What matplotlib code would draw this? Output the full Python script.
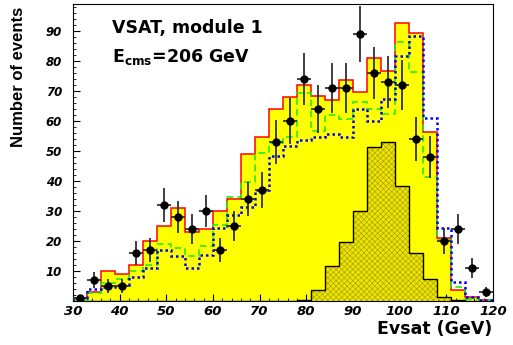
import numpy as np
import matplotlib
matplotlib.use('Agg')
import matplotlib.pyplot as plt

# bin edges (3 GeV bins)
edges = [30, 33, 36, 39, 42, 45, 48, 51, 54, 57, 60, 63, 66, 69, 72, 75, 78, 81,
         84, 87, 90, 93, 96, 99, 102, 105, 108, 111, 114, 117, 120]

# total MC (yellow, red outline)
mc_total = [1, 3, 10, 9, 12, 20, 25, 31, 23, 24, 30, 34, 49, 54.5, 64, 68, 72, 68.4,
            67, 73.7, 69.6, 81, 76.8, 92.6, 89.2, 56.2, 21.1, 3.7, 1.2, 0.4]
# green dashed
mc_green = [0.5, 2.6, 5.9, 7.3, 10.1, 12, 18.9, 17.8, 15, 18.3, 25.3, 34.6, 39.8, 49.2,
            52.5, 54.5, 69.2, 56.5, 62, 60.6, 66.2, 64, 62.2, 86.4, 76.3, 41.4, 20.3,
            4.8, 0.8, 0.2]
# blue dotted
mc_blue = [0.9, 3.9, 4.8, 5.3, 8.1, 10.9, 17, 15, 10.9, 15.3, 24.4, 28.7, 31.2, 37,
           48.4, 51.8, 53.7, 54.6, 55.7, 54.6, 63.9, 60.1, 67.3, 81.6, 88.4, 60.9,
           24.4, 6.2, 1.4, 0.5]
# hatched component
mc_hatch = [0, 0, 0, 0, 0, 0, 0, 0, 0, 0, 0, 0, 0, 0, 0, 0, 0.3, 3.7, 11.8, 19.8,
            30.1, 51.4, 53.1, 38.3, 15.9, 7.2, 1.4, 0.3, 0, 0]
# data
data = [1, 7, 5, 5, 16, 17, 32, 28, 24, 30, 17, 25, 34, 37, 53, 60, 74, 64, 71, 71,
        89, 76, 73, 72, 54, 48, 20, 24, 11, 3]

edges = np.array(edges, dtype=float)
centers = (edges[:-1] + edges[1:]) / 2
data = np.array(data, dtype=float)

plt.rcParams['hatch.linewidth'] = 0.4
fig = plt.figure(figsize=(5.13, 3.45), dpi=100)
ax = fig.add_axes([73/513, 1 - 301/345, 420/513, 297/345])

ax.stairs(mc_total, edges, fill=True, color='#ffff00', zorder=1)
# hatched fill, then black outline
ax.stairs(mc_hatch, edges, fill=True, facecolor='#ece400', edgecolor='#a29a00',
          hatch='xxxxxx', lw=0, zorder=2)
ax.stairs(mc_hatch, edges, color='black', lw=1.0, zorder=2.5)
ax.stairs(mc_total, edges, color='#ff0000', lw=1.1, zorder=3)
ax.stairs(mc_green, edges, color='#22ee00', lw=1.2, ls=(0, (4, 2.5)), zorder=4)
ax.stairs(mc_blue, edges, color='#0000ff', lw=1.8, ls=(0, (1, 1.2)), zorder=5)

ax.errorbar(centers, data, xerr=1.5, yerr=np.sqrt(data), fmt='o', color='black',
            ms=5, ecolor='#303030', elinewidth=1.3, capsize=0, zorder=6)

ax.set_xlim(30, 120)
ax.set_ylim(0, 99)
ax.set_xticks(range(30, 121, 10))
ax.set_xticks(range(30, 121, 2), minor=True)
ax.set_yticks(range(10, 91, 10))
ax.set_yticks(range(0, 99, 2), minor=True)
ax.tick_params(which='both', direction='in', top=False, right=False)
ax.tick_params(which='major', length=5, width=0.8)
ax.tick_params(which='minor', length=2.5, width=0.6)
ax.tick_params(axis='x', pad=3)
ax.tick_params(axis='y', pad=8)
for lab in ax.get_xticklabels():
    lab.set_fontsize(9.5)
    lab.set_fontweight('bold')
    lab.set_fontstyle('oblique')
for lab in ax.get_yticklabels():
    lab.set_fontsize(8.5)
    lab.set_fontweight('bold')
    lab.set_fontstyle('oblique')
for sp in ax.spines.values():
    sp.set_linewidth(0.8)

fig.text(19/513, 1 - 7/345, 'Number of events', rotation=90, ha='center', va='top',
         fontsize=12, fontweight='bold', family='Liberation Sans')
fig.text(492/513, 1 - 334/345, 'Evsat (GeV)', ha='right', va='baseline',
         fontsize=12.5, fontweight='bold')
fig.text(112/513, 1 - 33/345, 'VSAT, module 1', ha='left', va='baseline',
         fontsize=12.5, fontweight='bold')
fig.text(112/513, 1 - 62/345, r'E$_{\mathbf{cms}}$=206 GeV', ha='left', va='baseline',
         fontsize=12.5, fontweight='bold')

fig.savefig('out.png', dpi=100)
